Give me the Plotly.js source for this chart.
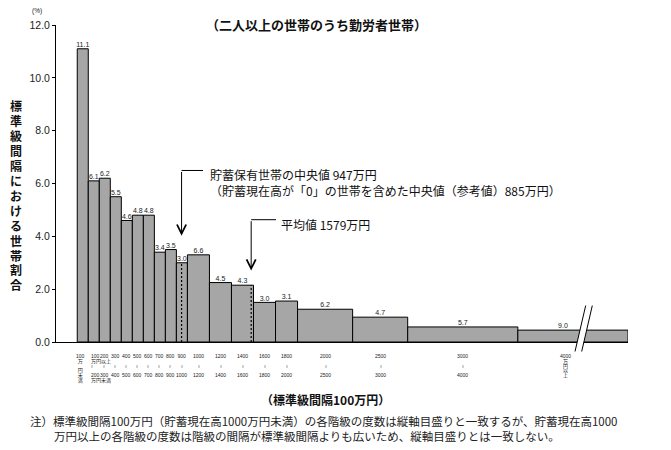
<!DOCTYPE html>
<html>
<head>
<meta charset="utf-8">
<script src="https://cdn.plot.ly/plotly-3.0.1.min.js"></script>
<style>
  html, body { margin: 0; padding: 0; background: #fff; }
  #chart { width: 671px; height: 450px; }
</style>
</head>
<body>
<div id="chart"></div>
<script>
// savings classes (万円), lower edge of each class; the last one is open ended
const binEdges = [0, 100, 200, 300, 400, 500, 600, 700, 800, 900, 1000, 1200, 1400, 1600, 1800, 2000, 2500, 3000, 4000];
// share of households in each class (%)
const shares = [11.1, 6.1, 6.2, 5.5, 4.6, 4.8, 4.8, 3.4, 3.5, 3.0, 6.6, 4.5, 4.3, 3.0, 3.1, 6.2, 4.7, 5.7, 9.0];
const standardWidth = 100;          // 標準級間隔 100万円
const openClassDrawnWidth = 1000;   // "4000万円以上" drawn with a break
const openClassNominalWidth = 2000;
const medianSavers = 947;   // 貯蓄保有世帯の中央値
const medianAll = 885;      // 「0」の世帯を含めた中央値
const meanValue = 1579;     // 平均値

const title = '（二人以上の世帯のうち勤労者世帯）';
const yTitle = '標準級間隔における世帯割合';
const xTitle = '（標準級間隔100万円）';
const note1 = '注）標準級間隔100万円（貯蓄現在高1000万円未満）の各階級の度数は縦軸目盛りと一致するが、貯蓄現在高1000';
const note2 = '万円以上の各階級の度数は階級の間隔が標準級間隔よりも広いため、縦軸目盛りとは一致しない。';

const W = 671, H = 450;
const M = { l: 56, r: 43, t: 25, b: 107.5 };
const plotW = W - M.l - M.r, plotH = H - M.t - M.b;
const xRange = [-193, 5000], yRange = [0, 12];

const JP = '"Noto Sans CJK JP", sans-serif';
const NUM = '"Liberation Sans", "Noto Sans CJK JP", sans-serif';

// pixel -> paper / data helpers for placing the decorations
const px2p = px => (px - M.l) / plotW;
const py2p = py => (M.t + plotH - py) / plotH;
const px2x = px => xRange[0] + px2p(px) * (xRange[1] - xRange[0]);
const py2y = py => yRange[0] + py2p(py) * (yRange[1] - yRange[0]);
const unitsPerPx = (xRange[1] - xRange[0]) / plotW;

const n = binEdges.length;
const drawnWidths = binEdges.map((e, i) => i < n - 1 ? binEdges[i + 1] - e : openClassDrawnWidth);
const nominalWidths = binEdges.map((e, i) => i < n - 1 ? binEdges[i + 1] - e : openClassNominalWidth);
const centers = binEdges.map((e, i) => e + drawnWidths[i] / 2);
const heights = shares.map((v, i) => v / (nominalWidths[i] / standardWidth));
// the open class label sits a little left of the break
const labelX = centers.map((c, i) => i === n - 1 ? c - 10 * unitsPerPx : c);

function heightAt(v) {
  for (let i = 0; i < n; i++) {
    if (v >= binEdges[i] && v < binEdges[i] + drawnWidths[i]) return heights[i];
  }
  return 0;
}

// class labels under the axis, on a small grid of rows
function classLabel(i) {
  const lo = binEdges[i];
  if (i === 0) return ['' + binEdges[1], '万', '', '円', '未', '満'];
  if (i === 1) return ['' + lo, '万円以上', '≀', '', '' + binEdges[2], '万円未満'];
  if (i === n - 1) return ['' + lo, '万', '円', '以', '上'];
  return ['' + lo, '', '≀', '', '' + binEdges[i + 1]];
}

const annotations = [];
const shapes = [];

binEdges.forEach((e, i) => {
  const rows = classLabel(i).map(s => s ? `<span style="font-size:5px">${s}</span>` : '&nbsp;');
  let x = centers[i], anchor = 'center', align = 'center';
  if (i === 0) x -= 2 * unitsPerPx;
  if (i === 1) { x = e + 1 * unitsPerPx; anchor = 'left'; align = 'left'; }
  if (i === n - 1) x -= 7 * unitsPerPx;
  annotations.push({
    xref: 'x', yref: 'paper', x: x, y: py2p(351.5),
    text: rows.join('<br>'), showarrow: false, xanchor: anchor, yanchor: 'top', align: align,
    font: { family: NUM, size: 3.7, color: '#222' }
  });
});

// title and texts
annotations.push({
  xref: 'paper', yref: 'paper', x: px2p(316), y: py2p(24), text: title,
  showarrow: false, xanchor: 'center', yanchor: 'middle',
  font: { family: JP, size: 13, color: '#111', weight: 'bold' }
});
annotations.push({
  xref: 'paper', yref: 'paper', x: px2p(37), y: py2p(11), text: '(%)',
  showarrow: false, xanchor: 'center', yanchor: 'middle',
  font: { family: NUM, size: 6.5, color: '#222' }
});
// vertical, upright y axis title
annotations.push({
  xref: 'paper', yref: 'paper', x: px2p(16), y: py2p(95), text:
    [...yTitle].map(ch => `<span style="font-size:12px">${ch}</span>`).join('<br>'),
  showarrow: false, xanchor: 'center', yanchor: 'top', align: 'center',
  font: { family: JP, size: 11.5, color: '#111', weight: 'bold' }
});
annotations.push({
  xref: 'paper', yref: 'paper', x: px2p(325), y: py2p(400), text: xTitle,
  showarrow: false, xanchor: 'center', yanchor: 'middle',
  font: { family: JP, size: 12, color: '#111', weight: 'bold' }
});
annotations.push({
  xref: 'paper', yref: 'paper', x: px2p(28), y: py2p(422), text: note1,
  showarrow: false, xanchor: 'left', yanchor: 'middle',
  font: { family: JP, size: 11.5, color: '#222' }
});
annotations.push({
  xref: 'paper', yref: 'paper', x: px2p(52), y: py2p(437), text: note2,
  showarrow: false, xanchor: 'left', yanchor: 'middle',
  font: { family: JP, size: 11.5, color: '#222' }
});

// median / mean markers
const markers = [
  { v: medianSavers, corner: 170.7, tip: 236, end: 203, textX: 208,
    lines: ['貯蓄保有世帯の中央値 ' + medianSavers + '万円',
            '（貯蓄現在高が「0」の世帯を含めた中央値（参考値）' + medianAll + '万円）'] },
  { v: meanValue, corner: 220, tip: 271, end: 276, textX: 279,
    lines: ['平均値 ' + meanValue + '万円'] }
];
markers.forEach(m => {
  shapes.push({
    type: 'line', xref: 'x', yref: 'y', x0: m.v, x1: m.v, y0: 0, y1: heightAt(m.v),
    line: { color: '#000', width: 1.2, dash: '2px,2px' }
  });
  shapes.push({
    type: 'line', xref: 'x', yref: 'y', x0: m.v, x1: px2x(m.end), y0: py2y(m.corner), y1: py2y(m.corner),
    line: { color: '#000', width: 1 }
  });
  annotations.push({
    xref: 'x', yref: 'y', axref: 'x', ayref: 'y',
    x: m.v, y: py2y(m.tip), ax: m.v, ay: py2y(m.corner),
    text: '', showarrow: true, arrowhead: 5, arrowsize: 1.8, arrowwidth: 1, arrowcolor: '#000'
  });
  annotations.push({
    xref: 'x', yref: 'y', x: px2x(m.textX), y: py2y(m.corner - 6),
    text: m.lines.join('<br>'), showarrow: false, xanchor: 'left', yanchor: 'top', align: 'left',
    font: { family: JP, size: 12, color: '#111' }
  });
});

// axis break on the open ended class
const brk = [[575, 352, 585.7, 306], [581.7, 352, 592.3, 306]];
shapes.push({
  type: 'path', xref: 'paper', yref: 'paper',
  path: `M${px2p(brk[0][0])},${py2p(brk[0][1])} L${px2p(brk[0][2])},${py2p(brk[0][3])} ` +
        `L${px2p(brk[1][2])},${py2p(brk[1][3])} L${px2p(brk[1][0])},${py2p(brk[1][1])} Z`,
  fillcolor: '#fff', line: { width: 0 }
});
brk.forEach(b => shapes.push({
  type: 'line', xref: 'paper', yref: 'paper',
  x0: px2p(b[0]), y0: py2p(b[1]), x1: px2p(b[2]), y1: py2p(b[3]),
  line: { color: '#000', width: 1 }
}));

const traces = [
  {
    type: 'bar', x: centers, y: heights, width: drawnWidths,
    marker: { color: '#a6a6a6', line: { color: '#000', width: 1 } },
    hoverinfo: 'skip'
  },
  {
    type: 'scatter', mode: 'text', x: labelX, y: heights,
    text: shares.map(v => v.toFixed(1)), textposition: 'top center',
    textfont: { family: NUM, size: 7, color: '#222' },
    cliponaxis: false, hoverinfo: 'skip'
  }
];

const layout = {
  width: W, height: H,
  margin: M,
  showlegend: false,
  paper_bgcolor: '#fff', plot_bgcolor: '#fff',
  xaxis: {
    range: xRange, showline: true, linecolor: '#000', linewidth: 1,
    showticklabels: false, ticks: '', showgrid: false, zeroline: false, fixedrange: true
  },
  yaxis: {
    range: yRange, dtick: 2, tickformat: '.1f', ticks: 'outside', ticklen: 3,
    tickcolor: '#000', showline: true, linecolor: '#000', linewidth: 1,
    showgrid: false, zeroline: false, fixedrange: true,
    tickfont: { family: NUM, size: 10.5, color: '#222' }
  },
  annotations: annotations,
  shapes: shapes
};

Plotly.newPlot('chart', traces, layout, { staticPlot: true, displayModeBar: false });
</script>
</body>
</html>
